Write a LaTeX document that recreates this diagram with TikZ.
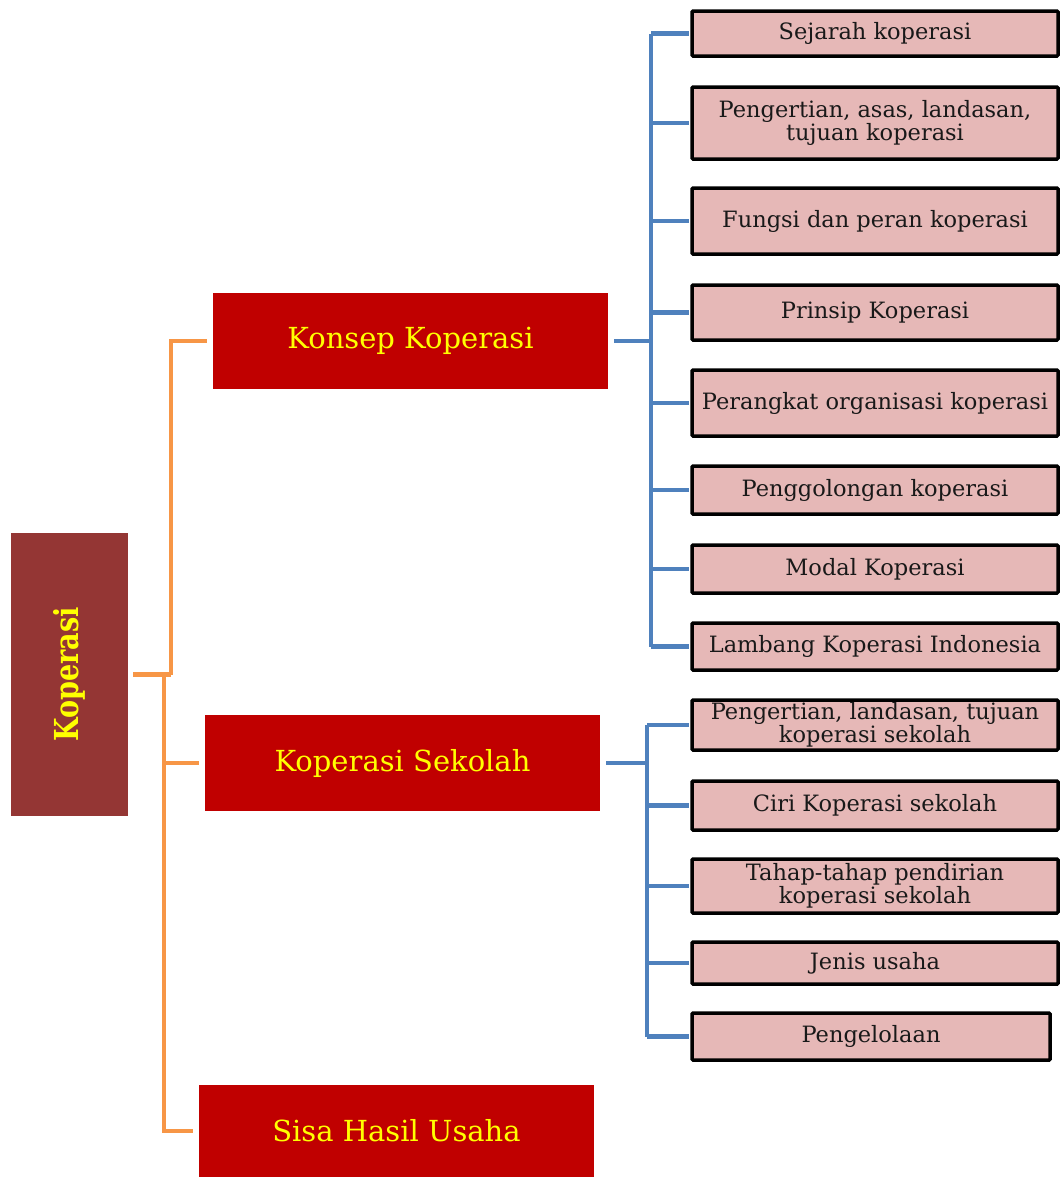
\documentclass[tikz,border=0pt]{standalone}
\usepackage{fontspec}
\setmainfont{DejaVu Serif}
\definecolor{rootc}{HTML}{943634}
\definecolor{mainc}{HTML}{C00000}
\definecolor{subc}{HTML}{E6B8B7}
\definecolor{orl}{HTML}{F79646}
\definecolor{bll}{HTML}{4F81BD}
\definecolor{ytxt}{HTML}{FFFF00}
\begin{document}
\begin{tikzpicture}[x=1pt,y=-1pt,
  rootbox/.style={fill=rootc,draw=none,minimum width=117pt,minimum height=283pt,inner sep=0pt},
  mainbox/.style={fill=mainc,draw=none,minimum width=395pt,minimum height=96pt,inner sep=0pt,text=ytxt,font=\fontsize{29}{34}\selectfont},
  subbox/.style={fill=subc,draw=black,line width=3.5pt,rounded corners=1pt,inner sep=0pt,align=center,text=black!90,font=\fontsize{22.5}{23.5}\selectfont},
  oline/.style={draw=orl,line width=4.5pt},
  bline/.style={draw=bll,line width=4.5pt}]
\useasboundingbox (0,0) rectangle (1062,1178);
% root
\node[rootbox] (root) at (69.5,674.5) {};
\node[rotate=90,text=ytxt,font=\bfseries\fontsize{33}{38}\selectfont] (roott) at (root.center) {\scalebox{0.82}[1]{Koperasi}};
% main boxes
\node[mainbox] (konsep) at (410.5,341) {Konsep Koperasi};
\node[mainbox] (sekolah) at (402.5,763) {Koperasi Sekolah};
\node[mainbox,minimum height=92pt] (sisa) at (396.5,1131) {Sisa Hasil Usaha};
% sub boxes group 1
\node[subbox,minimum width=366pt,minimum height=45pt] (a1) at (875,33.5) {Sejarah koperasi};
\node[subbox,minimum width=366pt,minimum height=72pt] (a2) at (875,123) {Pengertian, asas, landasan,\\tujuan koperasi};
\node[subbox,minimum width=366pt,minimum height=66pt] (a3) at (875,221) {Fungsi dan peran koperasi};
\node[subbox,minimum width=366pt,minimum height=55pt] (a4) at (875,312.5) {Prinsip Koperasi};
\node[subbox,minimum width=366pt,minimum height=66pt] (a5) at (875,403) {Perangkat organisasi koperasi};
\node[subbox,minimum width=366pt,minimum height=48pt] (a6) at (875,490) {Penggolongan koperasi};
\node[subbox,minimum width=366pt,minimum height=48pt] (a7) at (875,569) {Modal Koperasi};
\node[subbox,minimum width=366pt,minimum height=47pt] (a8) at (875,646.5) {Lambang Koperasi Indonesia};
% sub boxes group 2
\node[subbox,minimum width=366pt,minimum height=50pt] (b1) at (875,725) {Pengertian, landasan, tujuan\\koperasi sekolah};
\node[subbox,minimum width=366pt,minimum height=49pt] (b2) at (875,805.5) {Ciri Koperasi sekolah};
\node[subbox,minimum width=366pt,minimum height=54pt] (b3) at (875,886) {Tahap-tahap pendirian\\koperasi sekolah};
\node[subbox,minimum width=366pt,minimum height=42pt] (b4) at (875,963) {Jenis usaha};
\node[subbox,minimum width=358pt,minimum height=47pt] (b5) at (871,1036.5) {Pengelolaan};
% orange connectors
\coordinate (oj) at (171,674.5);
\coordinate (oj2) at (164,674.5);
\draw[oline] ([xshift=5pt]root.east) -- (oj);
\draw[oline] (oj) |- ([xshift=-6pt]konsep.west);
\draw[oline] (oj2) |- ([xshift=-6pt]sekolah.west);
\draw[oline] (oj2) |- ([xshift=-6pt]sisa.west);
% blue connectors group 1
\coordinate (bus1) at (651,341);
\draw[bline] ([xshift=6pt]konsep.east) -- (bus1);
\draw[bline] (bus1 |- a1.west) -- (bus1 |- a8.west);
\foreach \n in {a1,a2,a3,a4,a5,a6,a7,a8}{
  \draw[bline] (bus1 |- \n.west) -- ([xshift=-1.75pt]\n.west);
}
% blue connectors group 2
\coordinate (bus2) at (647,763);
\draw[bline] ([xshift=6pt]sekolah.east) -- (bus2);
\draw[bline] (bus2 |- b1.west) -- (bus2 |- b5.west);
\foreach \n in {b1,b2,b3,b4,b5}{
  \draw[bline] (bus2 |- \n.west) -- ([xshift=-1.75pt]\n.west);
}
\end{tikzpicture}
\end{document}
